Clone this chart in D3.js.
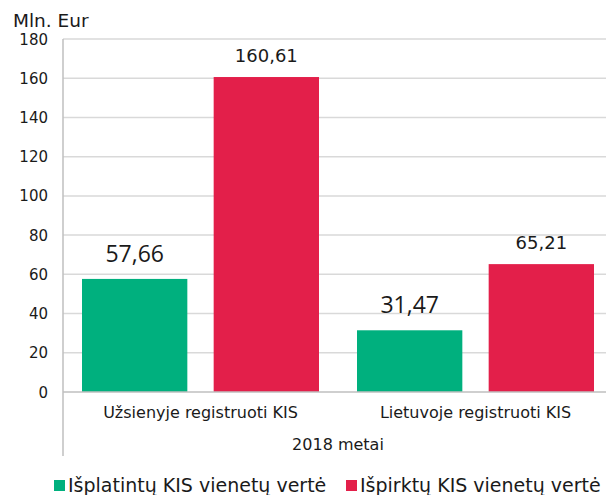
<!DOCTYPE html>
<html>
<head>
<meta charset="utf-8">
<script src="https://cdn.jsdelivr.net/npm/d3@7"></script>
<style>
  body { margin: 0; background: #fff; }
  text { font-family: "DejaVu Sans", Verdana, sans-serif; fill: #1a1a1a; }
</style>
</head>
<body>
<svg id="chart" width="606" height="495"></svg>
<script>
// data
const categories = ["Užsienyje registruoti KIS", "Lietuvoje registruoti KIS"];
const seriesNames = ["Išplatintų KIS vienetų vertė", "Išpirktų KIS vienetų vertė"];
const issued = [57.66, 31.47];
const redeemed = [160.61, 65.21];
const yTicks = [0, 20, 40, 60, 80, 100, 120, 140, 160, 180];
const groupLabel = "2018 metai";
const unitLabel = "Mln. Eur";

const colors = ["#00B07E", "#E31F4A"];
const fmt = v => v.toFixed(2).replace(".", ",");

const svg = d3.select("#chart");
const plotLeft = 63, plotRight = 613, plotTop = 39, plotBottom = 392;

const y = d3.scaleLinear().domain([0, 180]).range([plotBottom, plotTop]);
const x0 = d3.scaleBand().domain(categories).range([plotLeft, plotRight]);
const x1 = d3.scaleBand().domain([0, 1]).range([19, 256]).paddingInner(0.2);

// gridlines
svg.append("g")
  .selectAll("line")
  .data(yTicks.filter(t => t > 0))
  .enter().append("line")
  .attr("x1", plotLeft).attr("x2", 606)
  .attr("y1", d => y(d)).attr("y2", d => y(d))
  .attr("stroke", "#d9d9d9").attr("stroke-width", 1.5);

// y tick labels
svg.append("g")
  .selectAll("text")
  .data(yTicks)
  .enter().append("text")
  .attr("x", 48).attr("y", d => y(d) + 5.5)
  .attr("text-anchor", "end")
  .style("font-size", "15px")
  .text(d => d);

svg.append("text").attr("x", 13).attr("y", 27).style("font-size", "18.5px").text(unitLabel);

// bars
const rows = categories.map((c, i) => ({ cat: c, vals: [issued[i], redeemed[i]] }));
const groups = svg.append("g").selectAll("g")
  .data(rows)
  .enter().append("g")
  .attr("transform", d => `translate(${x0(d.cat)},0)`);

groups.selectAll("rect")
  .data(d => d.vals.map((v, k) => ({ v, k })))
  .enter().append("rect")
  .attr("x", d => x1(d.k))
  .attr("width", x1.bandwidth())
  .attr("y", d => y(d.v))
  .attr("height", d => plotBottom - y(d.v))
  .attr("fill", d => colors[d.k]);

// value labels: the first series uses a bigger, narrower face
groups.selectAll("text.val")
  .data(d => d.vals.map((v, k) => ({ v, k })))
  .enter().append("text")
  .attr("class", "val")
  .attr("x", d => x1(d.k) + x1.bandwidth() / 2)
  .attr("y", d => y(d.v) - (d.k === 0 ? 17 : 15))
  .attr("text-anchor", "middle")
  .style("font-family", d => d.k === 0 ? "'Open Sans', sans-serif" : null)
  .style("font-size", d => d.k === 0 ? "23px" : "18px")
  .text(d => fmt(d.v));

// axis lines
svg.append("line")
  .attr("x1", plotLeft).attr("x2", 606).attr("y1", plotBottom).attr("y2", plotBottom)
  .attr("stroke", "#bfbfbf").attr("stroke-width", 1.5);
svg.append("line")
  .attr("x1", plotLeft).attr("x2", plotLeft).attr("y1", plotTop).attr("y2", 456)
  .attr("stroke", "#bfbfbf").attr("stroke-width", 1.5);

// category labels
svg.append("g").selectAll("text")
  .data(categories)
  .enter().append("text")
  .attr("x", d => x0(d) + x0.bandwidth() / 2)
  .attr("y", 418)
  .attr("text-anchor", "middle")
  .style("font-size", "16px")
  .text(d => d);

svg.append("text")
  .attr("x", x0(categories[1]))
  .attr("y", 450)
  .attr("text-anchor", "middle")
  .style("font-size", "16px")
  .text(groupLabel);

// legend
const legendX = [54, 346];
const legend = svg.append("g").selectAll("g")
  .data(seriesNames)
  .enter().append("g")
  .attr("transform", (d, i) => `translate(${legendX[i]},0)`);
legend.append("rect")
  .attr("x", 0).attr("y", 480).attr("width", 11).attr("height", 11)
  .attr("fill", (d, i) => colors[i]);
legend.append("text")
  .attr("x", 14).attr("y", 492)
  .style("font-size", "19px")
  .text(d => d);
</script>
</body>
</html>
